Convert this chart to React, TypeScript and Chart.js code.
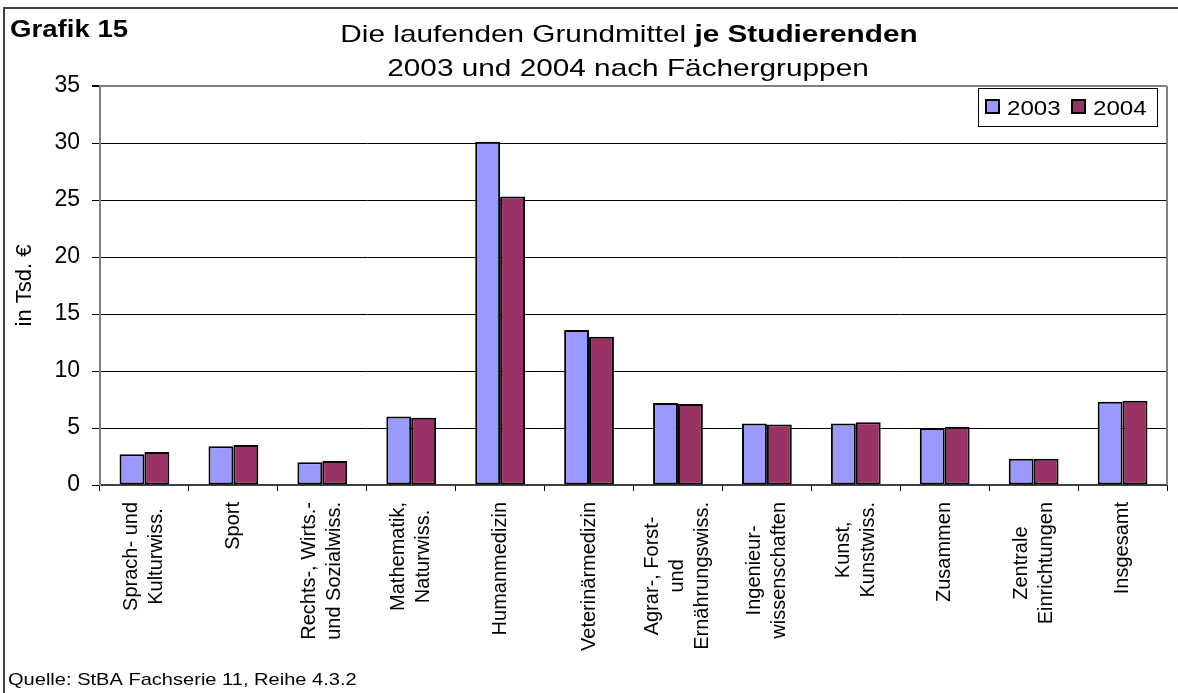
import React, { useEffect, useRef } from "react";
import { Chart, registerables } from "chart.js";

Chart.register(...registerables);

const categories: string[][] = [
  ["Sprach- und", "Kulturwiss."],
  ["Sport"],
  ["Rechts-, Wirts.-", "und Sozialwiss."],
  ["Mathematik,", "Naturwiss."],
  ["Humanmedizin"],
  ["Veterinärmedizin"],
  ["Agrar-, Forst-", "und", "Ernährungswiss."],
  ["Ingenieur-", "wissenschaften"],
  ["Kunst,", "Kunstwiss."],
  ["Zusammen"],
  ["Zentrale", "Einrichtungen"],
  ["Insgesamt"],
];

const values2003 = [2.7, 3.4, 2.0, 6.0, 30.1, 13.6, 7.2, 5.4, 5.4, 5.0, 2.3, 7.3];
const values2004 = [2.9, 3.5, 2.1, 5.9, 25.3, 13.0, 7.1, 5.3, 5.5, 5.1, 2.3, 7.4];

const seriesNames = ["2003", "2004"];
const seriesColors = ["#9999FF", "#993366"];

const yTicks = [0, 5, 10, 15, 20, 25, 30, 35];

const chartLabel = "Grafik 15";
const titleRegular = "Die laufenden Grundmittel ";
const titleBold = "je Studierenden";
const titleLine2 = "2003 und 2004 nach Fächergruppen";
const yTitle = "in Tsd. €";
const sourceText = "Quelle: StBA Fachserie 11, Reihe 4.3.2";

const FF = "'Liberation Sans', Arial, sans-serif";

function stretchText(
  ctx: CanvasRenderingContext2D,
  text: string,
  x: number,
  y: number,
  font: string,
  sx: number,
  align: "left" | "center" | "right" = "left"
) {
  ctx.save();
  ctx.font = font;
  const w = ctx.measureText(text).width * sx;
  let x0 = x;
  if (align === "center") x0 = x - w / 2;
  else if (align === "right") x0 = x - w;
  ctx.translate(x0, y);
  ctx.scale(sx, 1);
  ctx.textAlign = "left";
  ctx.textBaseline = "alphabetic";
  ctx.fillStyle = "#000";
  ctx.fillText(text, 0, 0);
  ctx.restore();
  return w;
}

const decorPlugin = {
  id: "decor",
  beforeDraw(chart: any) {
    const ctx = chart.ctx as CanvasRenderingContext2D;
    ctx.save();
    ctx.fillStyle = "#fff";
    ctx.fillRect(0, 0, chart.width, chart.height);
    ctx.restore();
  },
  afterDraw(chart: any) {
    const ctx = chart.ctx as CanvasRenderingContext2D;
    const { right, top, bottom } = chart.chartArea;
    const xScale = chart.scales.x;

    // plot area right border
    ctx.save();
    ctx.strokeStyle = "#808080";
    ctx.lineWidth = 2;
    ctx.beginPath();
    ctx.moveTo(right, top);
    ctx.lineTo(right, bottom);
    ctx.stroke();
    ctx.restore();

    // outer frame (left and top visible)
    ctx.save();
    ctx.strokeStyle = "#404040";
    ctx.lineWidth = 2;
    ctx.beginPath();
    ctx.moveTo(4, chart.height);
    ctx.lineTo(4, 8);
    ctx.lineTo(chart.width, 8);
    ctx.stroke();
    ctx.restore();

    // Grafik label
    stretchText(ctx, chartLabel, 10, 37, `bold 23px ${FF}`, 1.2, "left");

    // Title line 1 (mixed weight)
    const sx = 1.24;
    const tf = 24;
    ctx.save();
    ctx.font = `${tf}px ${FF}`;
    const w1 = ctx.measureText(titleRegular).width * sx;
    ctx.font = `bold ${tf}px ${FF}`;
    const w2 = ctx.measureText(titleBold).width * sx;
    ctx.restore();
    const cx = 629;
    const startX = cx - (w1 + w2) / 2;
    stretchText(ctx, titleRegular, startX, 42, `${tf}px ${FF}`, sx, "left");
    stretchText(ctx, titleBold, startX + w1, 42, `bold ${tf}px ${FF}`, sx, "left");
    stretchText(ctx, titleLine2, 628, 76, `${tf}px ${FF}`, sx, "center");

    // Y axis title
    ctx.save();
    ctx.translate(25, (top + bottom) / 2);
    ctx.rotate(-Math.PI / 2);
    ctx.font = `22px ${FF}`;
    ctx.fillStyle = "#000";
    ctx.textAlign = "center";
    ctx.textBaseline = "middle";
    ctx.fillText(yTitle, 0, 0);
    ctx.restore();

    // X labels: rotated, lines centered on each other, block top near axis
    const lineGap = 25;
    const labelTop = bottom + 17;
    ctx.save();
    ctx.font = `20px ${FF}`;
    ctx.fillStyle = "#000";
    ctx.textAlign = "center";
    ctx.textBaseline = "middle";
    categories.forEach((lines, i) => {
      const xc = xScale.getPixelForTick(i);
      const maxW = Math.max(...lines.map((l) => ctx.measureText(l).width));
      const yc = labelTop + maxW / 2;
      lines.forEach((line, j) => {
        const xi = xc + (j - (lines.length - 1) / 2) * lineGap;
        ctx.save();
        ctx.translate(xi, yc);
        ctx.rotate(-Math.PI / 2);
        ctx.fillText(line, 0, 0);
        ctx.restore();
      });
    });
    ctx.restore();

    // Legend box
    const lx = 978,
      ly = 88,
      lw = 179,
      lh = 38;
    ctx.save();
    ctx.fillStyle = "#fff";
    ctx.fillRect(lx, ly, lw, lh);
    ctx.strokeStyle = "#000";
    ctx.lineWidth = 1;
    ctx.strokeRect(lx + 0.5, ly + 0.5, lw, lh);
    ctx.restore();
    const itemX = [986, 1072];
    seriesNames.forEach((name, k) => {
      ctx.save();
      ctx.fillStyle = seriesColors[k];
      ctx.fillRect(itemX[k], 100, 13, 13);
      ctx.strokeStyle = "#000";
      ctx.lineWidth = 2;
      ctx.strokeRect(itemX[k], 100, 13, 13);
      ctx.restore();
      stretchText(ctx, name, itemX[k] + 21, 115, `21px ${FF}`, 1.15, "left");
    });

    // Source
    stretchText(ctx, sourceText, 8, 685, `17px ${FF}`, 1.18, "left");
  },
};

export default function App() {
  const canvasRef = useRef<HTMLCanvasElement | null>(null);

  useEffect(() => {
    if (!canvasRef.current) return;
    const chart = new Chart(canvasRef.current, {
      type: "bar",
      data: {
        labels: categories,
        datasets: [
          {
            label: seriesNames[0],
            data: values2003,
            backgroundColor: seriesColors[0],
            borderColor: "#000",
            borderWidth: 2,
            borderSkipped: false,
            categoryPercentage: 0.56,
            barPercentage: 1.0,
          },
          {
            label: seriesNames[1],
            data: values2004,
            backgroundColor: seriesColors[1],
            borderColor: "#000",
            borderWidth: 2,
            borderSkipped: false,
            categoryPercentage: 0.56,
            barPercentage: 1.0,
          },
        ],
      },
      options: {
        responsive: false,
        animation: false,
        layout: { padding: { left: 0, top: 86, right: 11, bottom: 0 } },
        plugins: {
          legend: { display: false },
          title: { display: false },
          tooltip: { enabled: false },
        },
        scales: {
          x: {
            type: "category",
            offset: true,
            grid: {
              display: true,
              offset: true,
              drawOnChartArea: false,
              drawTicks: true,
              tickLength: 6,
              color: "#000",
              lineWidth: 1,
            },
            border: { display: true, color: "#404040", width: 2 },
            ticks: { display: false },
            afterFit: (scale: any) => {
              scale.height = 208;
            },
          },
          y: {
            min: 0,
            max: 35,
            afterBuildTicks: (scale: any) => {
              scale.ticks = yTicks.map((v) => ({ value: v }));
            },
            grid: {
              color: (c: any) => (c.tick && c.tick.value === 35 ? "#808080" : "#000"),
              lineWidth: (c: any) => (c.tick && c.tick.value === 35 ? 2 : 1),
              tickColor: "#000",
              tickLength: 8,
              drawTicks: true,
            },
            border: { display: true, color: "#808080", width: 2 },
            ticks: {
              color: "#000",
              padding: 12,
              font: { family: FF, size: 23 },
            },
            afterFit: (scale: any) => {
              scale.width = 100;
            },
          },
        },
      },
      plugins: [decorPlugin],
    });
    return () => chart.destroy();
  }, []);

  return (
    <div style={{ position: "absolute", left: 0, top: 0, width: 1178, height: 693 }}>
      <canvas
        ref={canvasRef}
        width={1178}
        height={693}
        style={{ display: "block", width: 1178, height: 693 }}
      />
    </div>
  );
}
